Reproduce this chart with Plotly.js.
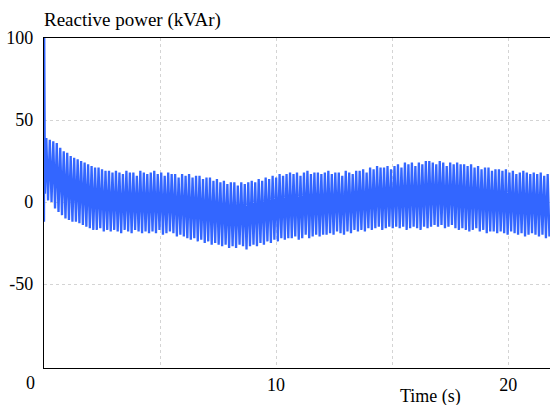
<!DOCTYPE html>
<html>
<head>
<meta charset="utf-8">
<script src="https://cdn.plot.ly/plotly-3.0.1.min.js"></script>
<style>
html,body{margin:0;padding:0;background:#fff;}
#chart{width:550px;height:405px;}
</style>
</head>
<body>
<div id="chart"></div>
<script>
// Initial transient at t = 0 (s, kVAr)
var startTime = [0, 0.01, 0.04];
var startValue = [-12, 100, 5];

// Oscillation: first cycle time and cycle period (s)
var cycleStart = 0.1;
var cyclePeriod = 0.15;

// Peak (upper) value of each cycle (kVAr)
var upperPeaks = [
  39, 38, 37, 36, 33, 31, 30, 28, 27, 26,
  25, 24, 23, 22, 21, 21, 20, 19, 19, 18,
  19, 18, 17, 19, 18, 18, 16, 19, 18, 17,
  18, 19, 17, 18, 16, 18, 17, 17, 15, 17,
  16, 17, 15, 16, 16, 14, 15, 15, 13, 14,
  12, 13, 11, 12, 12, 10, 12, 11, 12, 13,
  12, 14, 13, 15, 14, 16, 15, 17, 16, 17,
  18, 17, 18, 16, 18, 19, 17, 18, 18, 17,
  18, 19, 17, 18, 18, 16, 19, 18, 17, 19,
  19, 20, 18, 21, 20, 22, 21, 21, 22, 20,
  22, 23, 21, 24, 23, 24, 22, 24, 23, 25,
  25, 24, 23, 25, 24, 22, 24, 23, 24, 23,
  23, 22, 23, 21, 22, 20, 21, 21, 19, 20,
  20, 19, 20, 18, 19, 17, 18, 19, 18, 17,
  18, 17, 18, 16, 17
];

// Trough (lower) value of each cycle (kVAr)
var lowerPeaks = [
  1, 0, -4, -6, -8, -10, -11, -12, -12, -13,
  -14, -15, -16, -17, -17, -16, -18, -17, -18, -17,
  -18, -19, -17, -18, -19, -17, -18, -19, -18, -19,
  -18, -19, -17, -20, -19, -18, -19, -21, -20, -21,
  -22, -23, -22, -24, -23, -25, -24, -26, -25, -26,
  -27, -26, -28, -27, -28, -26, -27, -29, -27, -26,
  -27, -25, -26, -24, -25, -23, -24, -22, -23, -22,
  -22, -21, -23, -22, -20, -22, -21, -20, -21, -20,
  -20, -19, -20, -18, -19, -20, -18, -19, -17, -18,
  -17, -18, -16, -17, -16, -15, -17, -16, -15, -16,
  -15, -16, -15, -17, -16, -15, -16, -17, -15, -16,
  -15, -14, -15, -14, -16, -15, -14, -16, -17, -16,
  -17, -18, -17, -16, -18, -17, -19, -18, -18, -19,
  -18, -19, -20, -18, -19, -20, -19, -21, -20, -19,
  -20, -21, -20, -22, -21
];

// Axis ticks
var xTickVals = [5, 10, 15, 20];
var xTickText = ['', '10', '', '20'];
var yTickVals = [100, 50, 0, -50];
var yTickText = ['100', '50', '0', '-50'];

// Build the trace from the arrays above
var xs = startTime.slice();
var ys = startValue.slice();
for (var k = 0; k < upperPeaks.length; k++) {
  var t = cycleStart + k * cyclePeriod;
  xs.push(t); ys.push(upperPeaks[k]);
  xs.push(t + cyclePeriod / 2); ys.push(lowerPeaks[k]);
}

function serif(size) { return {family: 'Times New Roman', size: size, color: '#000'}; }

var trace = {
  x: xs, y: ys, type: 'scatter', mode: 'lines',
  line: {color: '#3366ff', width: 2.3},
  hoverinfo: 'skip'
};

var layout = {
  width: 550, height: 405,
  margin: {l: 44, r: 0, t: 38, b: 37, pad: 0},
  paper_bgcolor: '#fff', plot_bgcolor: '#fff',
  showlegend: false,
  font: serif(18),
  title: {text: 'Reactive power (kVAr)', font: serif(19), x: 44 / 550, xref: 'container',
          xanchor: 'left', y: 1 - 19 / 405, yref: 'container', yanchor: 'middle'},
  xaxis: {
    range: [0, 21.8], tickvals: xTickVals, ticktext: xTickText,
    showgrid: true, gridcolor: '#d4d4d4', griddash: 'dot', gridwidth: 1,
    zeroline: false, showline: true, linecolor: '#000', linewidth: 1.3, mirror: true,
    ticks: '', tickfont: serif(18), fixedrange: true
  },
  yaxis: {
    range: [-101.2, 100], tickvals: yTickVals, ticktext: yTickText,
    showgrid: true, gridcolor: '#d4d4d4', griddash: 'dot', gridwidth: 1,
    zeroline: false, showline: true, linecolor: '#000', linewidth: 1.3, mirror: false,
    ticks: '', tickfont: serif(18), ticklabelstandoff: 6, fixedrange: true
  },
  annotations: [
    {text: 'Time (s)', xref: 'paper', yref: 'paper', x: 0.763, y: 0,
     xanchor: 'center', yanchor: 'middle', yshift: -28, showarrow: false, font: serif(18)},
    {text: '0', xref: 'paper', yref: 'paper', x: -0.0257, y: 0,
     xanchor: 'center', yanchor: 'middle', yshift: -15, showarrow: false, font: serif(18)}
  ]
};

Plotly.newPlot('chart', [trace], layout, {displayModeBar: false});
</script>
</body>
</html>
